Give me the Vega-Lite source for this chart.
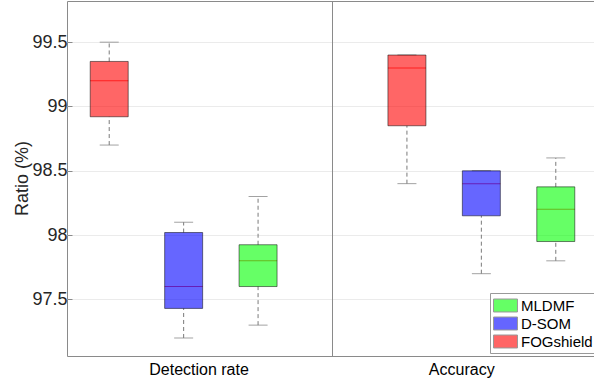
{
  "$schema": "https://vega.github.io/schema/vega-lite/v6.json",
  "width": 531,
  "height": 355,
  "autosize": "none",
  "padding": {"left": 67, "top": 1, "right": 0, "bottom": 34},
  "config": {
    "font": "Liberation Sans",
    "view": {"stroke": "#8a8a8a", "strokeWidth": 1}
  },
  "data": {
    "values": [
      {"metric": "Detection rate", "method": "FOGshield", "slot": 1, "min": 98.7, "q1": 98.92, "median": 99.2, "q3": 99.35, "max": 99.5},
      {"metric": "Detection rate", "method": "D-SOM", "slot": 2, "min": 97.2, "q1": 97.43, "median": 97.6, "q3": 98.02, "max": 98.1},
      {"metric": "Detection rate", "method": "MLDMF", "slot": 3, "min": 97.3, "q1": 97.6, "median": 97.8, "q3": 97.925, "max": 98.3},
      {"metric": "Accuracy", "method": "FOGshield", "slot": 5, "min": 98.4, "q1": 98.85, "median": 99.3, "q3": 99.4, "max": 99.4},
      {"metric": "Accuracy", "method": "D-SOM", "slot": 6, "min": 97.7, "q1": 98.15, "median": 98.4, "q3": 98.5, "max": 98.5},
      {"metric": "Accuracy", "method": "MLDMF", "slot": 7, "min": 97.8, "q1": 97.95, "median": 98.2, "q3": 98.375, "max": 98.6}
    ]
  },
  "layer": [
    {
      "mark": {"type": "rule", "color": "#7a7a7a", "strokeDash": [4, 3], "strokeWidth": 1},
      "encoding": {
        "x": {"field": "slot", "type": "quantitative", "scale": {"domain": [0.5, 7.5], "nice": false, "zero": false},
          "axis": {"values": [2.2, 5.73], "labelExpr": "datum.value < 4 ? 'Detection rate' : 'Accuracy'", "title": null, "ticks": false, "domain": false, "grid": false, "labelFontSize": 16, "labelPadding": 5, "labelColor": "#000000"}},
        "y": {"field": "q3", "type": "quantitative", "scale": {"domain": [97.06, 99.82], "nice": false, "zero": false},
          "axis": {"values": [97.5, 98, 98.5, 99, 99.5], "format": ".1~f", "title": "Ratio (%)", "titleFontSize": 18, "titleFontWeight": "normal", "titleColor": "#262626", "titleX": -45, "titleY": 177, "titleAngle": -90, "titleAlign": "center", "titleBaseline": "middle", "labelFontSize": 18, "labelColor": "#262626", "labelPadding": 5, "tickSize": -5, "tickColor": "#8a8a8a", "domain": false, "gridColor": "#ebebeb"}},
        "y2": {"field": "max"}
      }
    },
    {
      "mark": {"type": "rule", "color": "#7a7a7a", "strokeDash": [4, 3], "strokeWidth": 1},
      "encoding": {
        "x": {"field": "slot", "type": "quantitative"},
        "y": {"field": "min", "type": "quantitative"},
        "y2": {"field": "q1"}
      }
    },
    {
      "mark": {"type": "tick", "orient": "horizontal", "size": 19, "thickness": 1, "color": "#7a7a7a"},
      "encoding": {
        "x": {"field": "slot", "type": "quantitative"},
        "y": {"field": "max", "type": "quantitative"}
      }
    },
    {
      "mark": {"type": "tick", "orient": "horizontal", "size": 19, "thickness": 1, "color": "#7a7a7a"},
      "encoding": {
        "x": {"field": "slot", "type": "quantitative"},
        "y": {"field": "min", "type": "quantitative"}
      }
    },
    {
      "mark": {"type": "tick", "orient": "horizontal", "size": 38, "thickness": 1, "color": "#ff0000"},
      "encoding": {
        "x": {"field": "slot", "type": "quantitative"},
        "y": {"field": "median", "type": "quantitative"}
      }
    },
    {
      "mark": {"type": "bar", "width": 38, "fillOpacity": 0.6, "stroke": "#000000", "strokeOpacity": 0.5, "strokeWidth": 1},
      "encoding": {
        "x": {"field": "slot", "type": "quantitative"},
        "y": {"field": "q1", "type": "quantitative"},
        "y2": {"field": "q3"},
        "fill": {"field": "method", "type": "nominal",
          "scale": {"domain": ["MLDMF", "D-SOM", "FOGshield"], "range": ["#00ff00", "#0000ff", "#ff0000"]},
          "legend": {"orient": "none", "legendX": 423, "legendY": 292, "title": null,
            "symbolType": "M-1.33,-0.72H1.33V0.72H-1.33Z", "symbolSize": 324, "symbolOffset": 3, "symbolStrokeColor": "#555555", "symbolStrokeWidth": 1, "symbolOpacity": 0.6,
            "labelFontSize": 15, "labelColor": "#000000", "labelOffset": 6,
            "strokeColor": "#999999", "fillColor": "#ffffff", "padding": 3, "rowPadding": 0}}
      }
    },
    {
      "data": {"values": [{}]},
      "mark": {"type": "rule", "color": "#8a8a8a", "strokeWidth": 1},
      "encoding": {"x": {"datum": 4, "type": "quantitative"}}
    }
  ]
}
